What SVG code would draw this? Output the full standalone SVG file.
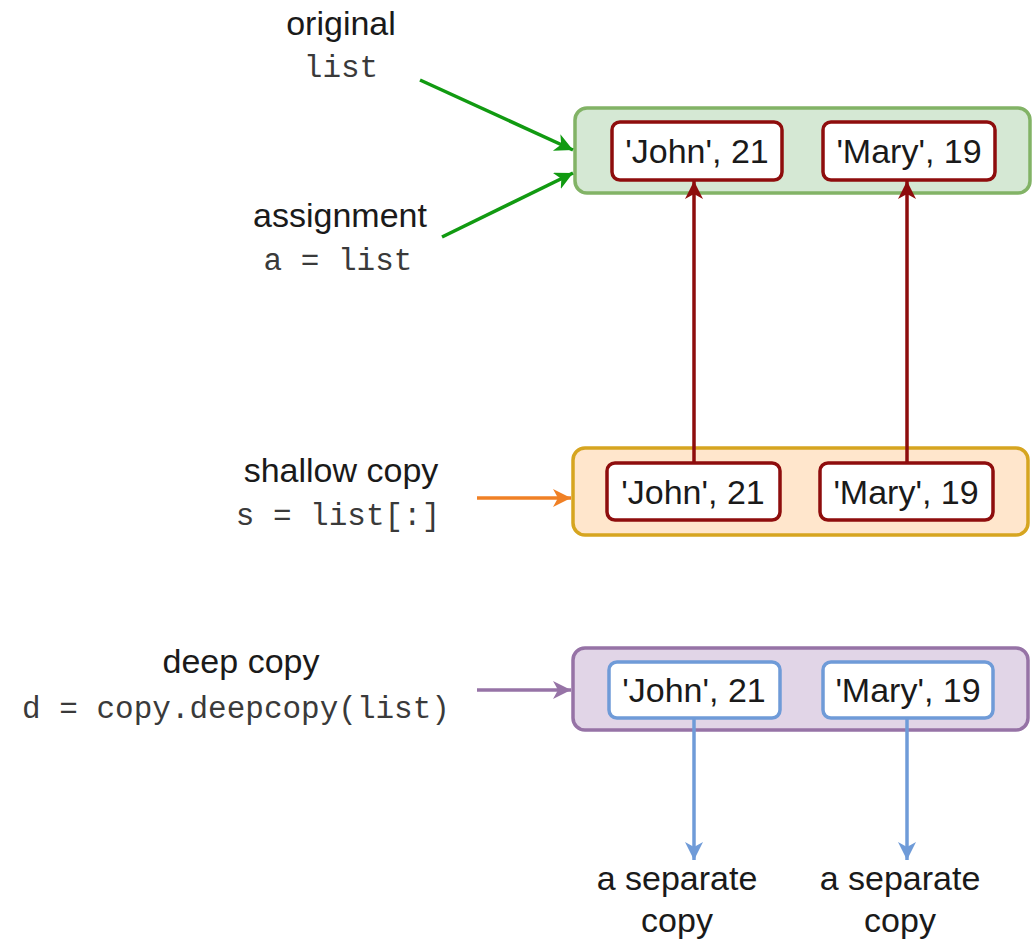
<svg xmlns="http://www.w3.org/2000/svg" width="1036" height="942" viewBox="0 0 1036 942">
<style>
.sans{font-family:"Liberation Sans",Arial,Helvetica,sans-serif;font-size:34px;fill:#1a1a1a;text-anchor:middle}
.mono{font-family:"Liberation Mono","Courier New",monospace;font-size:31px;fill:#3a3a3a;text-anchor:middle}
.outer{stroke-width:3.5}
.inner{fill:#fff;stroke-width:3.5}
.red{stroke:#8e0d0d}
.blue{stroke:#6f9bd8}
.conn{fill:none;stroke-width:3.5}
</style>
<defs>
<marker id="aG" markerUnits="userSpaceOnUse" markerWidth="20" markerHeight="20" refX="18" refY="9" orient="auto"><path d="M0,0 L18,9 L0,18 L5,9 Z" fill="#119a11"/></marker>
<marker id="aR" markerUnits="userSpaceOnUse" markerWidth="20" markerHeight="20" refX="18" refY="9" orient="auto"><path d="M0,0 L18,9 L0,18 L5,9 Z" fill="#8e0d0d"/></marker>
<marker id="aO" markerUnits="userSpaceOnUse" markerWidth="20" markerHeight="20" refX="18" refY="9" orient="auto"><path d="M0,0 L18,9 L0,18 L5,9 Z" fill="#f08025"/></marker>
<marker id="aP" markerUnits="userSpaceOnUse" markerWidth="20" markerHeight="20" refX="18" refY="9" orient="auto"><path d="M0,0 L18,9 L0,18 L5,9 Z" fill="#9673a6"/></marker>
<marker id="aB" markerUnits="userSpaceOnUse" markerWidth="20" markerHeight="20" refX="18" refY="9" orient="auto"><path d="M0,0 L18,9 L0,18 L5,9 Z" fill="#6f9bd8"/></marker>
</defs>
<rect width="1036" height="942" fill="#fff"/>

<g id="original-list">
<rect class="outer" x="575" y="108" width="455" height="85" rx="12" fill="#d5e8d4" stroke="#82b366"/>
<rect class="inner red" x="612" y="122" width="170" height="58" rx="8"/>
<text class="sans" x="697" y="163">'John', 21</text>
<rect class="inner red" x="823" y="122" width="172" height="58" rx="8"/>
<text class="sans" x="909" y="163">'Mary', 19</text>
</g>

<g id="shallow-list">
<rect class="outer" x="573" y="448" width="455" height="87" rx="12" fill="#ffe6cc" stroke="#d6a520"/>
<rect class="inner red" x="607" y="463" width="173" height="57" rx="8"/>
<text class="sans" x="693" y="504">'John', 21</text>
<rect class="inner red" x="820" y="463" width="173" height="57" rx="8"/>
<text class="sans" x="906" y="504">'Mary', 19</text>
</g>

<g id="deep-list">
<rect class="outer" x="573" y="648" width="455" height="82" rx="12" fill="#e1d5e7" stroke="#9673a6"/>
<rect class="inner blue" x="609" y="662" width="171" height="56" rx="8"/>
<text class="sans" x="694" y="702">'John', 21</text>
<rect class="inner blue" x="823" y="662" width="170" height="56" rx="8"/>
<text class="sans" x="908" y="702">'Mary', 19</text>
</g>

<g id="label-original">
<text class="sans" x="341" y="35">original</text>
<text class="mono" x="341" y="77">list</text>
</g>
<g id="label-assignment">
<text class="sans" x="340" y="227">assignment</text>
<text class="mono" x="338" y="270">a = list</text>
</g>
<g id="label-shallow">
<text class="sans" x="341" y="482">shallow copy</text>
<text class="mono" x="338" y="525">s = list[:]</text>
</g>
<g id="label-deep">
<text class="sans" x="241" y="673">deep copy</text>
<text class="mono" x="236" y="718">d = copy.deepcopy(list)</text>
</g>
<g id="label-sep1">
<text class="sans" x="677" y="890">a separate</text>
<text class="sans" x="677" y="932">copy</text>
</g>
<g id="label-sep2">
<text class="sans" x="900" y="890">a separate</text>
<text class="sans" x="900" y="932">copy</text>
</g>

<g id="connectors">
<path class="conn" d="M420,80 L573,150" stroke="#119a11" marker-end="url(#aG)"/>
<path class="conn" d="M442,237 L573,173" stroke="#119a11" marker-end="url(#aG)"/>
<path class="conn" d="M694,463 L694,181" stroke="#8e0d0d" marker-end="url(#aR)"/>
<path class="conn" d="M907,463 L907,181" stroke="#8e0d0d" marker-end="url(#aR)"/>
<path class="conn" d="M477,498 L571,498" stroke="#f08025" marker-end="url(#aO)"/>
<path class="conn" d="M477,690 L571,690" stroke="#9673a6" marker-end="url(#aP)"/>
<path class="conn" d="M694,718 L694,860" stroke="#6f9bd8" marker-end="url(#aB)"/>
<path class="conn" d="M907,718 L907,860" stroke="#6f9bd8" marker-end="url(#aB)"/>
</g>
</svg>
